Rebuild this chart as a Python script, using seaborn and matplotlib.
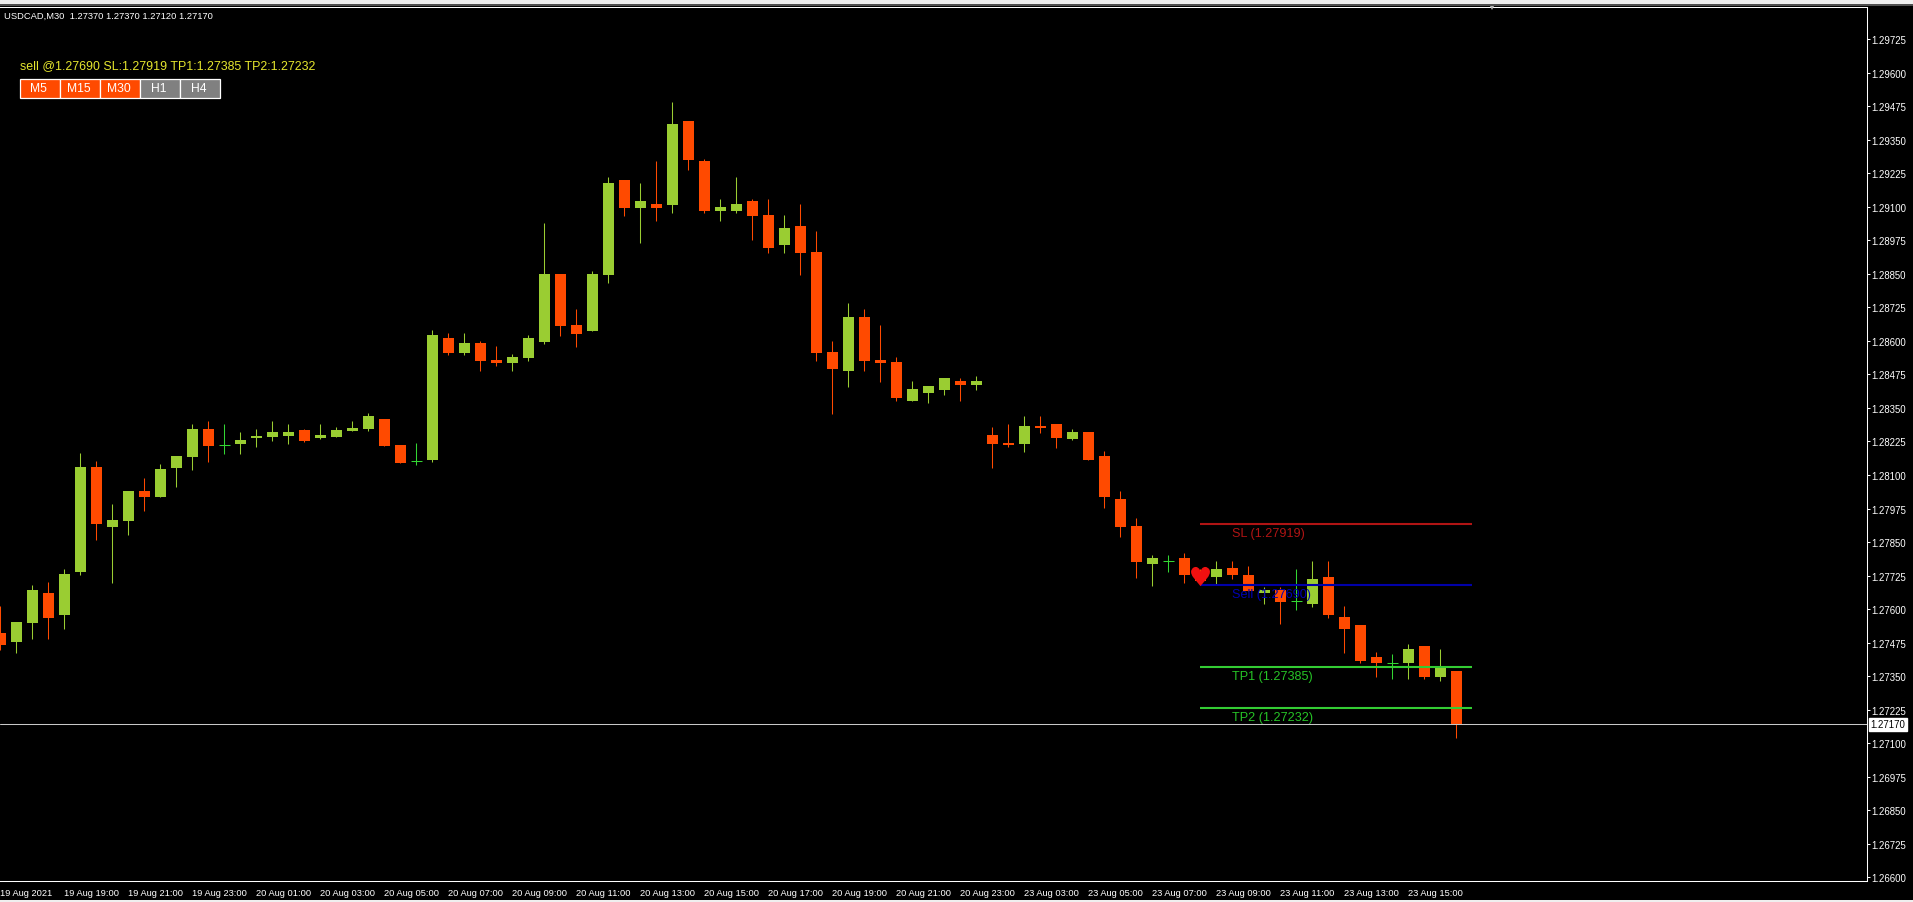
import matplotlib
matplotlib.use('Agg')
import matplotlib.pyplot as plt
from matplotlib.patches import Rectangle
import numpy as np
import seaborn as sns

# candles, oldest first (USDCAD M30)
opens = [1.27510, 1.27477, 1.27548, 1.27660, 1.27578, 1.27738, 1.28130, 1.27906, 1.27928, 1.28040,
         1.28018, 1.28126, 1.28167, 1.28271, 1.28212, 1.28216, 1.28238, 1.28242, 1.28245, 1.28268,
         1.28238, 1.28242, 1.28264, 1.28271, 1.28309, 1.28212, 1.28152, 1.28156, 1.28611, 1.28555,
         1.28592, 1.28529, 1.28518, 1.28536, 1.28596, 1.28850, 1.28660, 1.28637, 1.28846, 1.29201,
         1.29096, 1.29111, 1.29107, 1.29421, 1.29272, 1.29085, 1.29085, 1.29122, 1.29070, 1.28958,
         1.29029, 1.28932, 1.28559, 1.28488, 1.28689, 1.28529, 1.28521, 1.28376, 1.28406, 1.28417,
         1.28451, 1.28436, 1.28249, 1.28219, 1.28216, 1.28283, 1.28290, 1.28234, 1.28260, 1.28171,
         1.28010, 1.27910, 1.27768, 1.27779, 1.27790, 1.27734, 1.27719, 1.27753, 1.27727, 1.27660,
         1.27671, 1.27630, 1.27619, 1.27719, 1.27570, 1.27540, 1.27421, 1.27398, 1.27398, 1.27462,
         1.27346, 1.27370]
highs = [1.27611, 1.27551, 1.27690, 1.27701, 1.27749, 1.28182, 1.28152, 1.27992, 1.28040, 1.28089,
         1.28141, 1.28171, 1.28290, 1.28301, 1.28290, 1.28260, 1.28271, 1.28301, 1.28290, 1.28271,
         1.28290, 1.28279, 1.28301, 1.28331, 1.28309, 1.28212, 1.28219, 1.28641, 1.28630, 1.28630,
         1.28600, 1.28581, 1.28551, 1.28622, 1.29040, 1.28850, 1.28719, 1.28861, 1.29212, 1.29201,
         1.29189, 1.29271, 1.29492, 1.29421, 1.29279, 1.29130, 1.29212, 1.29130, 1.29130, 1.29070,
         1.29111, 1.29010, 1.28600, 1.28742, 1.28719, 1.28660, 1.28540, 1.28451, 1.28432, 1.28462,
         1.28462, 1.28469, 1.28279, 1.28290, 1.28320, 1.28320, 1.28290, 1.28271, 1.28260, 1.28190,
         1.28040, 1.27939, 1.27801, 1.27801, 1.27809, 1.27749, 1.27779, 1.27779, 1.27760, 1.27682,
         1.27682, 1.27749, 1.27779, 1.27779, 1.27611, 1.27540, 1.27440, 1.27432, 1.27469, 1.27462,
         1.27451, 1.27370]
lows = [1.27447, 1.27436, 1.27488, 1.27488, 1.27525, 1.27727, 1.27857, 1.27697, 1.27876, 1.27966,
        1.28018, 1.28055, 1.28119, 1.28148, 1.28178, 1.28178, 1.28204, 1.28227, 1.28216, 1.28223,
        1.28234, 1.28242, 1.28264, 1.28264, 1.28208, 1.28145, 1.28137, 1.28148, 1.28548, 1.28548,
        1.28488, 1.28507, 1.28488, 1.28525, 1.28589, 1.28619, 1.28578, 1.28637, 1.28816, 1.29066,
        1.28966, 1.29048, 1.29077, 1.29238, 1.29077, 1.29048, 1.29077, 1.28977, 1.28928, 1.28928,
        1.28846, 1.28525, 1.28327, 1.28428, 1.28488, 1.28447, 1.28376, 1.28376, 1.28369, 1.28398,
        1.28376, 1.28417, 1.28126, 1.28204, 1.28186, 1.28257, 1.28201, 1.28230, 1.28156, 1.27977,
        1.27869, 1.27716, 1.27686, 1.27738, 1.27697, 1.27690, 1.27693, 1.27712, 1.27667, 1.27619,
        1.27544, 1.27596, 1.27607, 1.27566, 1.27436, 1.27398, 1.27346, 1.27339, 1.27339, 1.27339,
        1.27331, 1.27120]
closes = [1.27466, 1.27551, 1.27671, 1.27566, 1.27731, 1.28130, 1.27917, 1.27932, 1.28040, 1.28018,
          1.28122, 1.28171, 1.28271, 1.28208, 1.28212, 1.28230, 1.28245, 1.28260, 1.28260, 1.28227,
          1.28249, 1.28268, 1.28275, 1.28320, 1.28208, 1.28145, 1.28152, 1.28622, 1.28555, 1.28592,
          1.28525, 1.28518, 1.28540, 1.28611, 1.28850, 1.28656, 1.28626, 1.28850, 1.29189, 1.29096,
          1.29122, 1.29096, 1.29410, 1.29275, 1.29085, 1.29100, 1.29111, 1.29066, 1.28947, 1.29022,
          1.28928, 1.28555, 1.28495, 1.28689, 1.28525, 1.28518, 1.28387, 1.28421, 1.28432, 1.28462,
          1.28436, 1.28451, 1.28216, 1.28212, 1.28283, 1.28275, 1.28238, 1.28260, 1.28156, 1.28018,
          1.27906, 1.27775, 1.27790, 1.27779, 1.27727, 1.27704, 1.27749, 1.27727, 1.27667, 1.27671,
          1.27626, 1.27630, 1.27712, 1.27578, 1.27525, 1.27406, 1.27398, 1.27398, 1.27451, 1.27346,
          1.27380, 1.27170]

y_ticks = [1.26600, 1.26725, 1.26850, 1.26975, 1.27100, 1.27225, 1.27350, 1.27475, 1.27600,
           1.27725, 1.27850, 1.27975, 1.28100, 1.28225, 1.28350, 1.28475, 1.28600, 1.28725,
           1.28850, 1.28975, 1.29100, 1.29225, 1.29350, 1.29475, 1.29600, 1.29725]
x_ticks = [0, 4, 8, 12, 16, 20, 24, 28, 32, 36, 40, 44, 48, 52, 56, 60, 64, 68, 72, 76, 80, 84, 88]
x_labels = ['19 Aug 2021', '19 Aug 19:00', '19 Aug 21:00', '19 Aug 23:00', '20 Aug 01:00',
            '20 Aug 03:00', '20 Aug 05:00', '20 Aug 07:00', '20 Aug 09:00', '20 Aug 11:00',
            '20 Aug 13:00', '20 Aug 15:00', '20 Aug 17:00', '20 Aug 19:00', '20 Aug 21:00',
            '20 Aug 23:00', '23 Aug 03:00', '23 Aug 05:00', '23 Aug 07:00', '23 Aug 09:00',
            '23 Aug 11:00', '23 Aug 13:00', '23 Aug 15:00']

last_price = 1.27170
sell_price = 1.27690
sl_price = 1.27919
tp1_price = 1.27385
tp2_price = 1.27232
arrow_price = 1.27725
levels = ['SL', 'Sell', 'TP1', 'TP2']
level_prices = [sl_price, sell_price, tp1_price, tp2_price]
header = 'USDCAD,M30  1.27370 1.27370 1.27120 1.27170'
signal = 'sell @1.27690 SL:1.27919 TP1:1.27385 TP2:1.27232'
buttons = ['M5', 'M15', 'M30', 'H1', 'H4']
button_on = [True, True, True, False, False]

W, H = 1913, 903
UP, DOWN, DOJI = '#9ACD32', '#FF4A00', '#33D633'
LEVEL_COLORS = ['#B01414', '#0000A8', '#33CC33', '#33CC33']
LEVEL_TEXT = ['#B01414', '#0000B4', '#26C426', '#26C426']

sns.set_style('dark')
plt.rcParams['font.family'] = ['Liberation Sans', 'DejaVu Sans']

fig = plt.figure(figsize=(W / 100, H / 100), dpi=100, facecolor='black')
ax = fig.add_axes([0, (H - 881.5) / H, 1867 / W, (881.5 - 8) / H], facecolor='black')

idx = np.arange(len(opens))
o, h, l, c = map(np.array, (opens, highs, lows, closes))
up = c > o
down = c < o
doji = c == o

# wicks
colors = np.where(up, UP, np.where(down, DOWN, DOJI))
ax.vlines(idx, l, h, colors=colors, linewidth=0.75, zorder=2)
ax.hlines(c[doji], idx[doji] - 0.34, idx[doji] + 0.34, colors=DOJI, linewidth=0.75, zorder=2)

# bodies
sns.barplot(x=idx[up], y=(c - o)[up], bottom=o[up], native_scale=True, width=0.6875, color=UP,
            saturation=1, errorbar=None, linewidth=0, ax=ax, zorder=3)
sns.barplot(x=idx[down], y=(o - c)[down], bottom=c[down], native_scale=True, width=0.6875, color=DOWN,
            saturation=1, errorbar=None, linewidth=0, ax=ax, zorder=3)

# trade levels
for name, price, col, tcol in zip(levels, level_prices, LEVEL_COLORS, LEVEL_TEXT):
    ax.hlines(price, 75, 92, colors=col, linewidth=1.5, zorder=4)
    ax.annotate(f'{name} ({price:.5f})', (77, price), xytext=(0, -6.5), textcoords='offset points',
                color=tcol, fontsize=9.1, va='center', ha='left', zorder=5)

sns.scatterplot(x=[75], y=[arrow_price], marker='$\u2665$', s=190, color='#F01010', linewidth=0, ax=ax, zorder=5)

# current price line and tag
ax.axhline(last_price, color='#C8C8C8', linewidth=0.75, zorder=4)
ax.text(1.0017, last_price, f'{last_price:.5f}', transform=ax.get_yaxis_transform(), color='black',
        fontsize=6.9, va='center', ha='left', clip_on=False, zorder=6,
        bbox=dict(facecolor='white', edgecolor='white', pad=1.2))

ax.set_xlim(-0.019, 116.67)
ax.set_ylim(1.26587, 1.298462)
ax.yaxis.tick_right()
ax.set_yticks(y_ticks)
ax.set_yticklabels([f'{v:.5f}' for v in y_ticks])
ax.set_xticks(x_ticks)
ax.set_xticklabels(x_labels, ha='left')
ax.tick_params(axis='y', colors='white', length=2.2, width=0.75, pad=1.2, labelsize=6.9)
ax.tick_params(axis='x', colors='white', length=2.2, width=0.75, pad=3, labelsize=6.7)
ax.set_xlabel('')
ax.set_ylabel('')
ax.grid(False)
for side in ['top', 'right', 'bottom']:
    ax.spines[side].set_color('white')
    ax.spines[side].set_linewidth(0.75)
ax.spines['left'].set_visible(False)

# little shift marker on the top edge
ax.plot([93.23], [1.0], marker='v', markersize=5, color='#B8B8B8', markeredgewidth=0,
        transform=ax.get_xaxis_transform(), clip_on=False, zorder=6)

# overlay texts and buttons, placed in figure pixels
def fx(px):
    return px / W

def fy(px):
    return 1 - px / H

fig.text(fx(4), fy(16.5), header, color='white', fontsize=6.75, va='center')
fig.text(fx(20.5), fy(66.5), signal, color='#E6E62E', fontsize=8.9, va='center')
for k, (name, on) in enumerate(zip(buttons, button_on)):
    left = 20 + 40 * k
    fig.add_artist(Rectangle((fx(left), fy(98.5)), 39.8 / W, 19 / H, transform=fig.transFigure,
                             facecolor=DOWN if on else '#808080', edgecolor='white', linewidth=0.9))
    fig.text(fx(left + 18.5), fy(89.5), name, color='white', fontsize=8.7, va='center', ha='center')

# window chrome above and below the chart
fig.add_artist(Rectangle((0, fy(4.5)), 1, 4.5 / H, transform=fig.transFigure, facecolor='#EFEFEF', edgecolor='none'))
fig.add_artist(Rectangle((0, fy(6.5)), 1, 2 / H, transform=fig.transFigure, facecolor='#505050', edgecolor='none'))
fig.add_artist(Rectangle((0, 0), 1, 2 / H, transform=fig.transFigure, facecolor='#EFEFEF', edgecolor='none'))

fig.savefig('out.png', dpi=100, facecolor='black')
